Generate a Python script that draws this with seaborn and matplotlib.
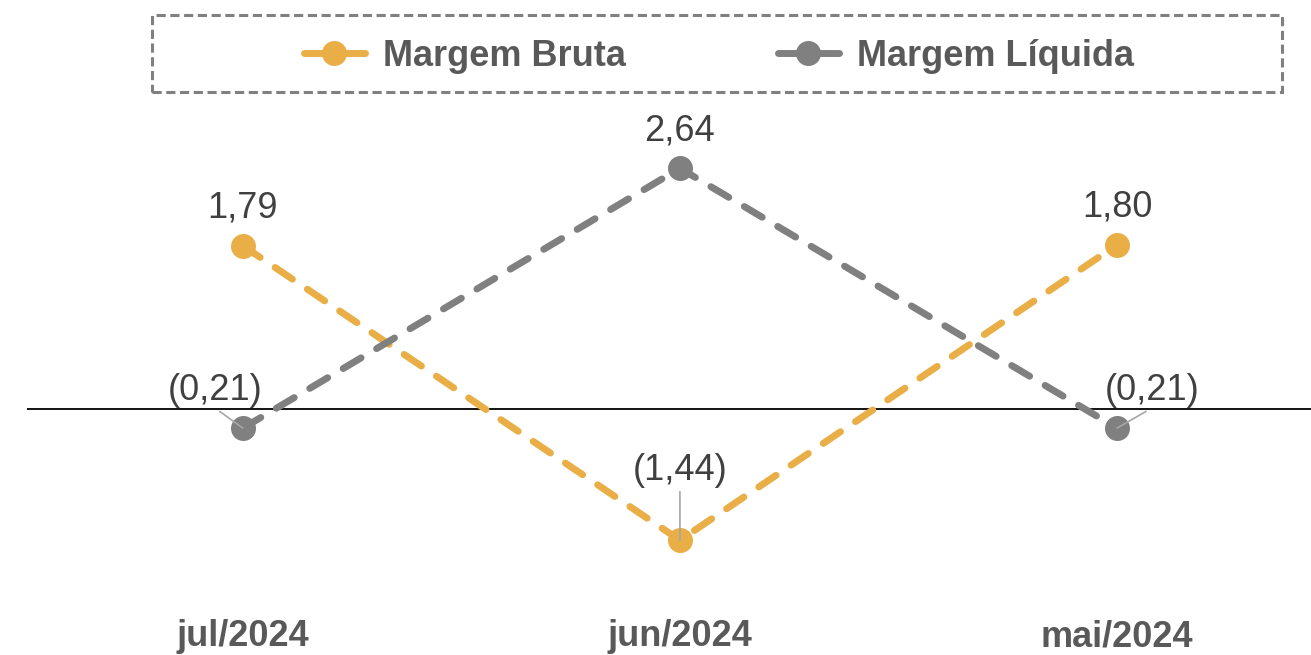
import matplotlib
matplotlib.use('Agg')
import matplotlib.pyplot as plt
import seaborn as sns
import pandas as pd
from matplotlib.patches import Rectangle
from matplotlib.lines import Line2D

# dados
meses = ['jul/2024', 'jun/2024', 'mai/2024']
margem_bruta = [1.79, -1.44, 1.80]
margem_liquida = [-0.21, 2.64, -0.21]
series = ['Margem Bruta', 'Margem Líquida']

cores = {'Margem Bruta': '#EAAE47', 'Margem Líquida': '#808080'}

df = pd.DataFrame({
    'mes': meses * 2,
    'valor': margem_bruta + margem_liquida,
    'serie': [series[0]] * 3 + [series[1]] * 3,
})

sns.set_style('white')
plt.rcParams['font.family'] = ['Liberation Sans', 'DejaVu Sans']

fig = plt.figure(figsize=(13.11, 6.55), dpi=100)
ax = fig.add_axes([27 / 1311, 1 - 600 / 655, 1284 / 1311, 500 / 655])

sns.lineplot(data=df, x='mes', y='valor', hue='serie', palette=cores,
             marker='o', markersize=18, markeredgewidth=0, linewidth=5,
             legend=False, ax=ax, sort=False)

for ln in ax.lines:
    ln.set_dashes((3.0, 2.6))
    ln.set_dash_capstyle('round')

handles = [Line2D([], [], color=cores[s], lw=5, marker='o', markersize=18,
                  markeredgewidth=0, solid_capstyle='round') for s in series]

ax.axhline(0, color='black', lw=1.3, zorder=1)

ax.set_xlim(-0.494, 2.444)
ax.set_ylim(-2.095, 3.389)
ax.set_yticks([])
ax.set_xlabel('')
ax.set_ylabel('')
for sp in ax.spines.values():
    sp.set_visible(False)
ax.tick_params(axis='x', length=0, pad=14)
for lbl in ax.get_xticklabels():
    lbl.set_fontsize(26)
    lbl.set_fontweight('bold')
    lbl.set_color('#595959')


def fmt(v):
    s = f'{abs(v):.2f}'.replace('.', ',')
    return f'({s})' if v < 0 else s


# rótulos de dados
offsets_b = [(0, 27), (0, 50), (0, 27)]
offsets_l = [(-20, 27), (0, 27), (25, 27)]
for vals, offs in [(margem_bruta, offsets_b), (margem_liquida, offsets_l)]:
    for i, (v, off) in enumerate(zip(vals, offs)):
        arrow = None
        if v < 0:
            arrow = dict(arrowstyle='-', color='#A6A6A6', lw=1.2,
                         shrinkA=0, shrinkB=0, relpos=(0.5, 0))
        ax.annotate(fmt(v), xy=(i, v), xytext=off, textcoords='offset points',
                    ha='center', va='center', fontsize=26, color='#404040',
                    arrowprops=arrow, zorder=5)

# legenda com moldura tracejada
fig.patches.append(Rectangle((152 / 1311, 1 - 92 / 655), 1130 / 1311, 77 / 655,
                             transform=fig.transFigure, fill=False,
                             edgecolor='#808080', lw=2.2,
                             linestyle=(0, (3, 1.5))))
leg = fig.legend(handles, series, loc='center',
                 bbox_to_anchor=(719 / 1311, 1 - 56 / 655), ncol=2,
                 frameon=False, handlelength=1.7, handletextpad=0.5,
                 columnspacing=4.2, borderpad=0,
                 prop={'size': 26, 'weight': 'bold'})
for t in leg.get_texts():
    t.set_color('#595959')

fig.savefig('out.png', dpi=100)
